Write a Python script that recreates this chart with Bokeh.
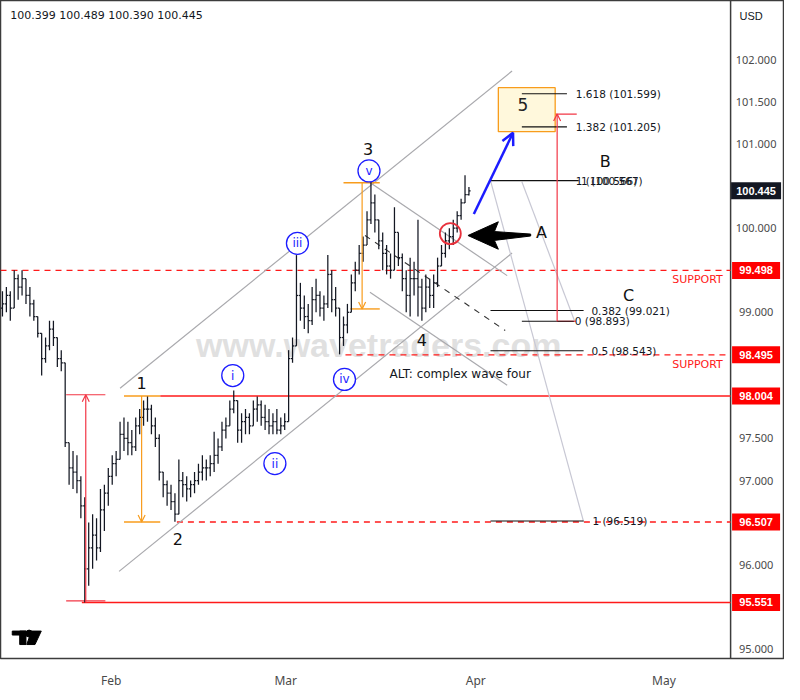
from bokeh.plotting import figure
from bokeh.models import (Label, FixedTicker, Arrow, OpenHead, ColumnDataSource)
from bokeh.core.properties import value
from bokeh.embed import file_html
from bokeh.resources import INLINE

# ---------------- price bars ----------------
highs = [99.25, 99.30, 99.25, 99.50, 99.45, 99.50, 99.40, 99.30, 99.15, 98.95,
         98.75, 98.70, 98.90, 98.90, 98.70, 98.55, 98.40, 97.45, 97.35, 97.30,
         97.05, 96.80, 96.50, 96.60, 96.55, 96.90, 96.95, 97.15, 97.30, 97.35,
         97.70, 97.75, 97.70, 97.60, 97.75, 97.85, 97.95, 98.00, 97.90, 97.75,
         97.55, 97.10, 97.00, 96.95, 96.85, 97.25, 97.10, 97.05, 97.00, 97.10,
         97.20, 97.30, 97.25, 97.30, 97.58, 97.50, 97.70, 97.75, 97.95, 98.07,
         97.95, 97.80, 97.85, 97.80, 97.95, 98.00, 97.95, 97.90, 97.85, 97.80,
         97.85, 97.75, 97.80, 98.55, 98.70, 99.68, 99.35, 99.20, 99.10, 99.30,
         99.40, 99.25, 99.20, 99.68, 99.50, 99.30, 99.05, 98.95, 99.10, 99.45,
         99.60, 99.80, 99.90, 100.20, 100.55, 100.40, 100.10, 99.95, 99.80, 99.70,
         100.25, 99.95, 99.70, 99.50, 99.65, 99.60, 100.10, 99.40, 99.45, 99.40,
         99.45, 99.65, 99.80, 99.95, 100.00, 100.10, 100.20, 100.35, 100.63, 100.489]
lows = [98.95, 99.00, 98.90, 99.05, 99.15, 99.20, 99.10, 98.95, 98.90, 98.70,
        98.25, 98.40, 98.55, 98.60, 98.35, 98.30, 97.40, 96.95, 96.90, 96.85,
        96.55, 95.55, 95.75, 95.95, 96.05, 96.15, 96.40, 96.70, 96.95, 97.05,
        97.25, 97.35, 97.30, 97.30, 97.35, 97.55, 97.65, 97.70, 97.55, 97.40,
        97.00, 96.80, 96.70, 96.65, 96.51, 96.60, 96.80, 96.75, 96.80, 96.85,
        96.95, 97.00, 97.00, 97.05, 97.10, 97.20, 97.35, 97.50, 97.65, 97.80,
        97.45, 97.45, 97.55, 97.55, 97.65, 97.70, 97.65, 97.60, 97.55, 97.55,
        97.55, 97.55, 97.60, 97.70, 98.40, 98.60, 98.90, 98.80, 98.75, 98.85,
        99.00, 98.95, 98.90, 99.05, 99.00, 98.95, 98.50, 98.60, 98.75, 99.00,
        99.25, 99.45, 99.60, 99.80, 100.05, 99.95, 99.75, 99.50, 99.45, 99.40,
        99.50, 99.55, 99.25, 99.00, 98.95, 99.20, 98.95, 98.90, 99.00, 99.05,
        99.05, 99.30, 99.55, 99.65, 99.75, 99.80, 99.95, 100.10, 100.30, 100.39]
closes = [99.10, 99.20, 99.05, 99.40, 99.30, 99.40, 99.20, 99.10, 98.95, 98.75,
          98.45, 98.60, 98.80, 98.70, 98.45, 98.40, 97.45, 97.15, 97.10, 97.00,
          96.70, 95.95, 96.20, 96.35, 96.20, 96.65, 96.85, 97.05, 97.20, 97.25,
          97.55, 97.50, 97.45, 97.40, 97.65, 97.75, 97.85, 97.85, 97.65, 97.50,
          97.10, 96.95, 96.85, 96.75, 96.60, 97.00, 96.95, 96.90, 96.95, 97.00,
          97.10, 97.15, 97.15, 97.20, 97.30, 97.40, 97.60, 97.65, 97.85, 97.95,
          97.60, 97.70, 97.75, 97.65, 97.85, 97.90, 97.75, 97.70, 97.65, 97.70,
          97.60, 97.65, 97.70, 98.45, 98.60, 99.20, 99.05, 98.95, 98.90, 99.15,
          99.20, 99.05, 99.10, 99.45, 99.15, 99.05, 98.70, 98.85, 99.00, 99.35,
          99.50, 99.70, 99.80, 100.10, 100.30, 100.10, 99.85, 99.70, 99.55, 99.50,
          99.95, 99.65, 99.40, 99.20, 99.40, 99.40, 99.30, 99.05, 99.30, 99.20,
          99.35, 99.55, 99.70, 99.85, 99.90, 100.00, 100.15, 100.30, 100.399, 100.445]
first_open = 99.05
opens = [first_open] + closes[:-1]
bar_x = list(range(len(closes)))

last_ohlc = ["100.399", "100.489", "100.390", "100.445"]

month_ticks = [27.75, 72.25, 120.75, 168.75]
month_labels = ["Feb", "Mar", "Apr", "May"]
price_ticks = [95.0, 96.0, 97.0, 97.5, 99.0, 100.0, 101.0, 101.5, 102.0]
last_price = 100.445
level_prices = [99.498, 98.495, 98.004, 96.507, 95.551]

# Elliott wave labels
wave_text = ["1", "2", "3", "4", "A", "B", "C"]
wave_x = [35.5, 44.75, 93.25, 107.0, 137.5, 153.75, 159.75]
wave_y = [98.155, 96.304, 100.938, 98.668, 99.948, 100.798, 99.203]
sub_text = ["i", "ii", "iii", "iv", "v"]
sub_x = [58.75, 69.5, 75.25, 87.25, 93.5]
sub_y = [98.248, 97.201, 99.820, 98.202, 100.681]

# Fibonacci tools
fib_line_y = [101.599, 101.205, 100.566, 99.021, 98.893, 98.543, 96.519]
fib_line_x0 = [132.5, 132.5, 124.5, 124.5, 132.5, 124.5, 124.5]
fib_line_x1 = [144.0, 144.0, 147.0, 148.25, 145.75, 148.25, 148.25]
fib_text = ["1.618 (101.599)", "1.382 (101.205)", "1 (100.566)", "1 (100.567)",
            "0.382 (99.021)", "0 (98.893)", "0.5 (98.543)", "1 (96.519)"]
fib_text_x = [146.25, 146.25, 146.25, 147.6, 150.25, 146.0, 150.25, 150.5]
fib_text_y = [101.599, 101.205, 100.566, 100.566, 99.021, 98.893, 98.543, 96.519]

# channels (x0, y0, x1, y1)
chan_x0 = [30.0, 29.75, 93.75, 93.75]
chan_y0 = [98.097, 95.92, 100.542, 99.238]
chan_x1 = [130.0, 130.0, 128.75, 128.75]
chan_y1 = [101.869, 99.704, 99.436, 98.132]
conn_x0 = [124.5, 132.5]
conn_y0 = [100.565, 100.553]
conn_x1 = [148.25, 146.0]
conn_y1 = [96.51, 98.89]

X0, X1 = -0.5, 199.5       # whole width incl. price column
XSEP = 185.75              # plot / price-scale separator
XPRICE = 192.25            # price-scale label centre
Y0, Y1 = 94.884, 102.707

DARK = "#131722"
RED = "#ff1a1a"
MRED = "#f23645"
ORANGE = "#f89c1c"
BLUE = "#1c1cff"
GRAY = "#a9a9ad"

p = figure(frame_width=784, frame_height=658, x_range=(X0, X1), y_range=(Y0, Y1),
           y_axis_location=None, output_backend="svg", toolbar_location=None,
           min_border_left=0, min_border_top=0, min_border_right=0, min_border_bottom=0)
p.grid.visible = False
p.outline_line_color = "#3c3c3c"
p.outline_line_width = 1.5
p.background_fill_color = "white"
p.border_fill_color = "white"

xax = p.xaxis[0]
xax.ticker = FixedTicker(ticks=month_ticks)
xax.major_label_overrides = {t: l for t, l in zip(month_ticks, month_labels)}
xax.major_tick_line_color = None
xax.minor_tick_line_color = None
xax.axis_line_color = None
xax.major_label_text_font = "Noto Sans"
xax.major_label_text_font_size = "12px"
xax.major_label_text_color = "#4a4a4a"
xax.major_label_standoff = 7


def lab(x, y, text, **kw):
    opts = dict(text_align="center", text_baseline="middle", text_font="Noto Sans",
                text_font_size="12px", text_color=DARK)
    opts.update(kw)
    l = Label(x=x, y=y, text=text, **opts)
    p.add_layout(l)
    return l


# watermark (under the bars)
lab(96, 98.609, "www.wavetraders.com", text_font="Liberation Sans", text_font_size="34px",
    text_font_style="bold", text_color="#d6d6d6", text_alpha=0.75, level="underlay")

# price-scale separator
p.segment(x0=[XSEP], y0=[Y0], x1=[XSEP], y1=[Y1], line_color="#3c3c3c", line_width=1.5)

# horizontal levels
p.segment(x0=[X0, 87.5, 44.5], y0=[level_prices[0], level_prices[1], level_prices[3]],
          x1=[XSEP] * 3, y1=[level_prices[0], level_prices[1], level_prices[3]],
          line_color=RED, line_dash="6 5", line_width=1.3)
p.segment(x0=[40.25, 20.25], y0=[level_prices[2], level_prices[4]], x1=[XSEP, XSEP],
          y1=[level_prices[2], level_prices[4]], line_color=RED, line_width=1.5)

# channels
p.segment(x0=chan_x0, y0=chan_y0, x1=chan_x1, y1=chan_y1, line_color=GRAY, line_width=1.2)
p.segment(x0=conn_x0, y0=conn_y0, x1=conn_x1, y1=conn_y1, line_color="#c8c8d4", line_width=1.2)
p.segment(x0=[92.5], y0=[99.913], x1=[128.25], y1=[98.784], line_color="#333333",
          line_dash="6 6", line_width=1.1)

# measurement tools
p.segment(x0=[16.25, 16.25], y0=[98.02, 95.57], x1=[26.25, 26.25], y1=[98.02, 95.57],
          line_color=MRED, line_width=1.2)
p.add_layout(Arrow(x_start=21.25, y_start=95.551, x_end=21.25, y_end=98.02,
                   end=OpenHead(size=7, line_color=MRED, line_width=1.2),
                   line_color=MRED, line_width=1.2))
p.segment(x0=[31.0, 31.0], y0=[98.004, 96.507], x1=[40.25, 40.25], y1=[98.004, 96.507],
          line_color=ORANGE, line_width=1.4)
p.add_layout(Arrow(x_start=35.5, y_start=98.004, x_end=35.5, y_end=96.507,
                   end=OpenHead(size=7, line_color=ORANGE, line_width=1.2),
                   line_color=ORANGE, line_width=1.2))
p.segment(x0=[87.0, 88.75], y0=[100.54, 99.04], x1=[96.25, 96.25], y1=[100.54, 99.04],
          line_color=ORANGE, line_width=1.4)
p.add_layout(Arrow(x_start=91.75, y_start=100.54, x_end=91.75, y_end=99.04,
                   end=OpenHead(size=7, line_color=ORANGE, line_width=1.2),
                   line_color=ORANGE, line_width=1.2))
p.segment(x0=[136.5, 141.5], y0=[101.357, 98.893], x1=[146.5, 146.25], y1=[101.357, 98.893],
          line_color=MRED, line_width=1.2)
p.add_layout(Arrow(x_start=141.5, y_start=98.893, x_end=141.5, y_end=101.357,
                   end=OpenHead(size=7, line_color=MRED, line_width=1.2),
                   line_color=MRED, line_width=1.2))

# target box
p.quad(left=[126.5], right=[141.0], bottom=[101.147], top=[101.671],
       fill_color="#fff8dc", line_color=ORANGE, line_width=1.3)

# fib lines and labels
p.segment(x0=fib_line_x0, y0=fib_line_y, x1=fib_line_x1, y1=fib_line_y,
          line_color="#111111", line_width=1.1)
p.text(x=fib_text_x, y=fib_text_y, text=fib_text, text_align="left", text_baseline="middle",
       text_font=value("DejaVu Sans"), text_font_size="10.5px", text_color=DARK)

# OHLC bars
src = ColumnDataSource(dict(x=bar_x, o=opens, h=highs, l=lows, c=closes,
                            xl=[v - 0.42 for v in bar_x], xr=[v + 0.42 for v in bar_x]))
p.segment(x0="x", y0="l", x1="x", y1="h", source=src, line_color=DARK, line_width=1.25)
p.segment(x0="xl", y0="o", x1="x", y1="o", source=src, line_color=DARK, line_width=1.25)
p.segment(x0="x", y0="c", x1="xr", y1="c", source=src, line_color=DARK, line_width=1.25)

# blue arrow
p.add_layout(Arrow(x_start=120.25, y_start=100.169, x_end=130.25, y_end=101.135,
                   end=OpenHead(size=12, line_color=BLUE, line_width=2.5),
                   line_color=BLUE, line_width=2.5))
# black arrow
p.patch(x=[118.75, 126.5, 125.5, 134.75, 134.75, 125.5, 126.5],
        y=[99.913, 100.076, 99.960, 99.930, 99.907, 99.855, 99.750], color="black")
# red circle
p.scatter(x=[114.25], y=[99.936], marker="circle", size=21, fill_alpha=0,
          line_color="#e8313c", line_width=1.8)

# wave labels
p.text(x=wave_x, y=wave_y, text=wave_text, text_align="center", text_baseline="middle",
       text_font=value("DejaVu Sans"), text_font_size="16px", text_color="#111111")
p.scatter(x=sub_x, y=sub_y, marker="circle", size=22, fill_color="white",
          line_color=BLUE, line_width=1.3)
p.text(x=sub_x, y=sub_y, text=sub_text, text_align="center", text_baseline="middle",
       text_font=value("DejaVu Sans"), text_font_size="12px", text_color=BLUE)
lab(132.75, 101.473, "5", text_font="DejaVu Sans", text_font_size="17px", text_color="#222222")
lab(98.75, 98.272, "ALT: complex wave four", text_align="left", text_font="DejaVu Sans",
    text_font_size="12px")
lab(183.75, 99.389, "SUPPORT", text_align="right", text_font="DejaVu Sans",
    text_font_size="11px", text_color=RED)
lab(183.75, 98.376, "SUPPORT", text_align="right", text_font="DejaVu Sans",
    text_font_size="11px", text_color=RED)

# header OHLC
lab(2.0, 102.532, " ".join(last_ohlc), text_align="left",
    text_font="DejaVu Sans", text_font_size="11px")

# TradingView logo
p.quad(left=[2.5, 4.4], right=[6.0, 6.0], bottom=[95.163, 95.05], top=[95.21, 95.21],
       color="black")
p.scatter(x=[6.8], y=[95.18], marker="circle", size=7, color="black")
p.patch(x=[7.4, 9.9, 8.3, 6.2], y=[95.21, 95.21, 95.05, 95.05], color="black")

# price scale: tick labels and badges
p.text(x=[XPRICE] * len(price_ticks), y=price_ticks, text=[f"{v:.3f}" for v in price_ticks],
       text_align="center", text_baseline="middle", text_font=value("Noto Sans"),
       text_font_size="11px", text_color="#4a4a4a")
p.rect(x=[XPRICE] * len(level_prices), y=level_prices, width=48, height=17,
       width_units="screen", height_units="screen", fill_color="#ff0000", line_color=None)
p.rect(x=[XPRICE], y=[last_price], width=50, height=17, width_units="screen",
       height_units="screen", fill_color=DARK, line_color=None)
p.text(x=[XPRICE] * (len(level_prices) + 1), y=level_prices + [last_price],
       text=[f"{v:.3f}" for v in level_prices + [last_price]], text_align="center",
       text_baseline="middle", text_font=value("Liberation Sans"), text_font_size="11px",
       text_font_style="bold", text_color="white")
lab(191.0, 102.52, "USD", text_font="Liberation Sans", text_font_size="11px")

open("out.html", "w").write(file_html(p, INLINE))
